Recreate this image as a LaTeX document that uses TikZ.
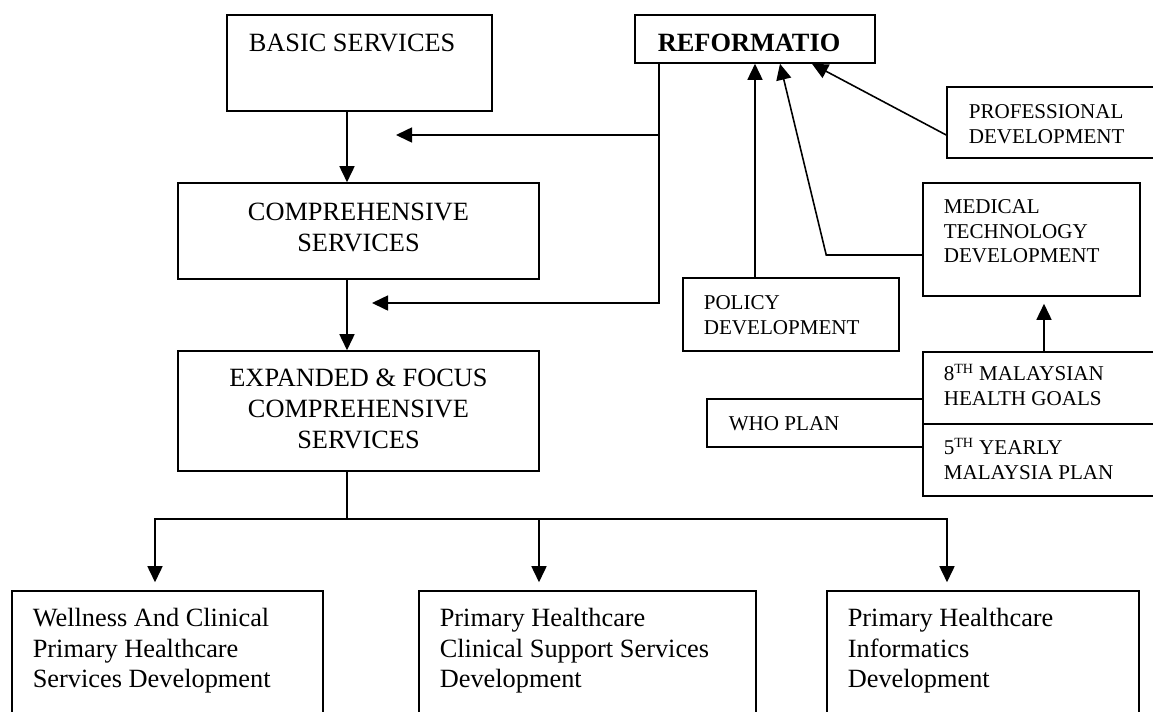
\documentclass[tikz,border=0pt]{standalone}
\usepackage{fontspec}
\setmainfont{Liberation Serif}
\usetikzlibrary{arrows.meta}

\begin{document}
\begin{tikzpicture}[x=0.02cm,y=-0.02cm,line width=0.9pt,>={Triangle[length=0.32cm,width=0.3cm]},
  box/.style={draw,inner sep=0pt},
  big/.style={inner sep=0pt,font=\fontsize{15}{17.6}\selectfont},
  small/.style={inner sep=0pt,font=\fontsize{12}{14}\selectfont}]

\useasboundingbox (0,0) rectangle (1153,711);
\fill[white] (0,0) rectangle (1153,711);
\clip (0,0) rectangle (1153,711);

\node (basic) [box,minimum width=5.30cm,minimum height=1.92cm] at (359.5,63) {};
\node (reform) [box,minimum width=4.80cm,minimum height=0.96cm] at (755,39) {};
\node (prof) [box,minimum width=4.36cm,minimum height=1.42cm] at (1056,122.5) {};
\node (comp) [box,minimum width=7.22cm,minimum height=1.92cm] at (358.5,231) {};
\node (med) [box,minimum width=4.34cm,minimum height=2.26cm] at (1031.5,239.5) {};
\node (policy) [box,minimum width=4.32cm,minimum height=1.46cm] at (791,314.5) {};
\node (exp) [box,minimum width=7.22cm,minimum height=2.40cm] at (358.5,411) {};
\node (goals) [box,minimum width=4.84cm,minimum height=1.44cm] at (1044,388) {};
\node (who) [box,minimum width=4.32cm,minimum height=0.96cm] at (815,423) {};
\node (plan) [box,minimum width=4.84cm,minimum height=1.44cm] at (1044,460) {};
\node (well) [box,minimum width=6.22cm,minimum height=2.78cm] at (167.5,660.5) {};
\node (support) [box,minimum width=6.74cm,minimum height=2.78cm] at (587.5,660.5) {};
\node (info) [box,minimum width=6.24cm,minimum height=2.78cm] at (983,660.5) {};

\node (basictext) [big,anchor=north west] at (248,33) {BASIC SERVICES};
\node (reformtext) [big,anchor=north west] at (657,33) {\textbf{REFORMATIO}};
\node (comptext) [big,anchor=north,align=center] at (358.5,202) {COMPREHENSIVE\\SERVICES};
\node (exptext) [big,anchor=north,align=center] at (358.5,368) {EXPANDED \& FOCUS\\COMPREHENSIVE\\SERVICES};
\node (proftext) [small,anchor=north west,align=left] at (968,104) {PROFESSIONAL\\DEVELOPMENT};
\node (medtext) [small,anchor=north west,align=left] at (943,199) {MEDICAL\\TECHNOLOGY\\DEVELOPMENT};
\node (policytext) [small,anchor=north west,align=left] at (703,295) {POLICY\\DEVELOPMENT};
\node (goalstext) [small,anchor=north west,align=left] at (943,363) {8\textsuperscript{TH} MALAYSIAN\\HEALTH GOALS};
\node (whotext) [small,anchor=north west] at (728,416) {WHO PLAN};
\node (plantext) [small,anchor=north west,align=left] at (943,437) {5\textsuperscript{TH} YEARLY\\MALAYSIA PLAN};
\node (welltext) [big,anchor=north west,align=left] at (32,607) {Wellness And Clinical\\Primary Healthcare\\Services Development};
\node (supporttext) [big,anchor=north west,align=left] at (439,607) {Primary Healthcare\\Clinical Support Services\\Development};
\node (infotext) [big,anchor=north west,align=left] at (847,607) {Primary Healthcare\\Informatics\\Development};

\coordinate (spine) at (347,0);
\coordinate (tapwell) at (155,519);
\coordinate (tapsupport) at (539,519);
\coordinate (tapinfo) at (947,519);
\coordinate (feedtop) at (659,135);
\coordinate (feedbot) at (659,303);
\coordinate (intobasic) at (396,135);
\coordinate (intocomp) at (372,303);

\path [->]
    (basic.south -| spine) edge (comp.north -| spine)
    (comp.south -| spine) edge (exp.north -| spine)
    (policy.north -| reform.south) edge (reform.south)
    (feedtop) edge (intobasic)
    (goals.north) edge [shorten >=0.14cm] (goals.north |- med.south)
    (tapsupport) edge [shorten >=0.16cm] (tapsupport |- support.north)
;
\draw (exp.south -| spine) -- (tapwell -| spine);
\draw [<->,shorten <=0.16cm,shorten >=0.16cm] (tapwell |- well.north) -- (tapwell) -- (tapinfo) -- (tapinfo |- info.north);
\draw [->] (reform.south -| feedbot) -- (feedbot) -- (intocomp);
\draw [->] ([yshift=-0.31cm]med.west) -- ++(-96,0) -- ([xshift=0.5cm]reform.south);
\draw [->] ([yshift=-0.25cm]prof.west) -- ([xshift=1.14cm]reform.south);

\end{tikzpicture}
\end{document}
